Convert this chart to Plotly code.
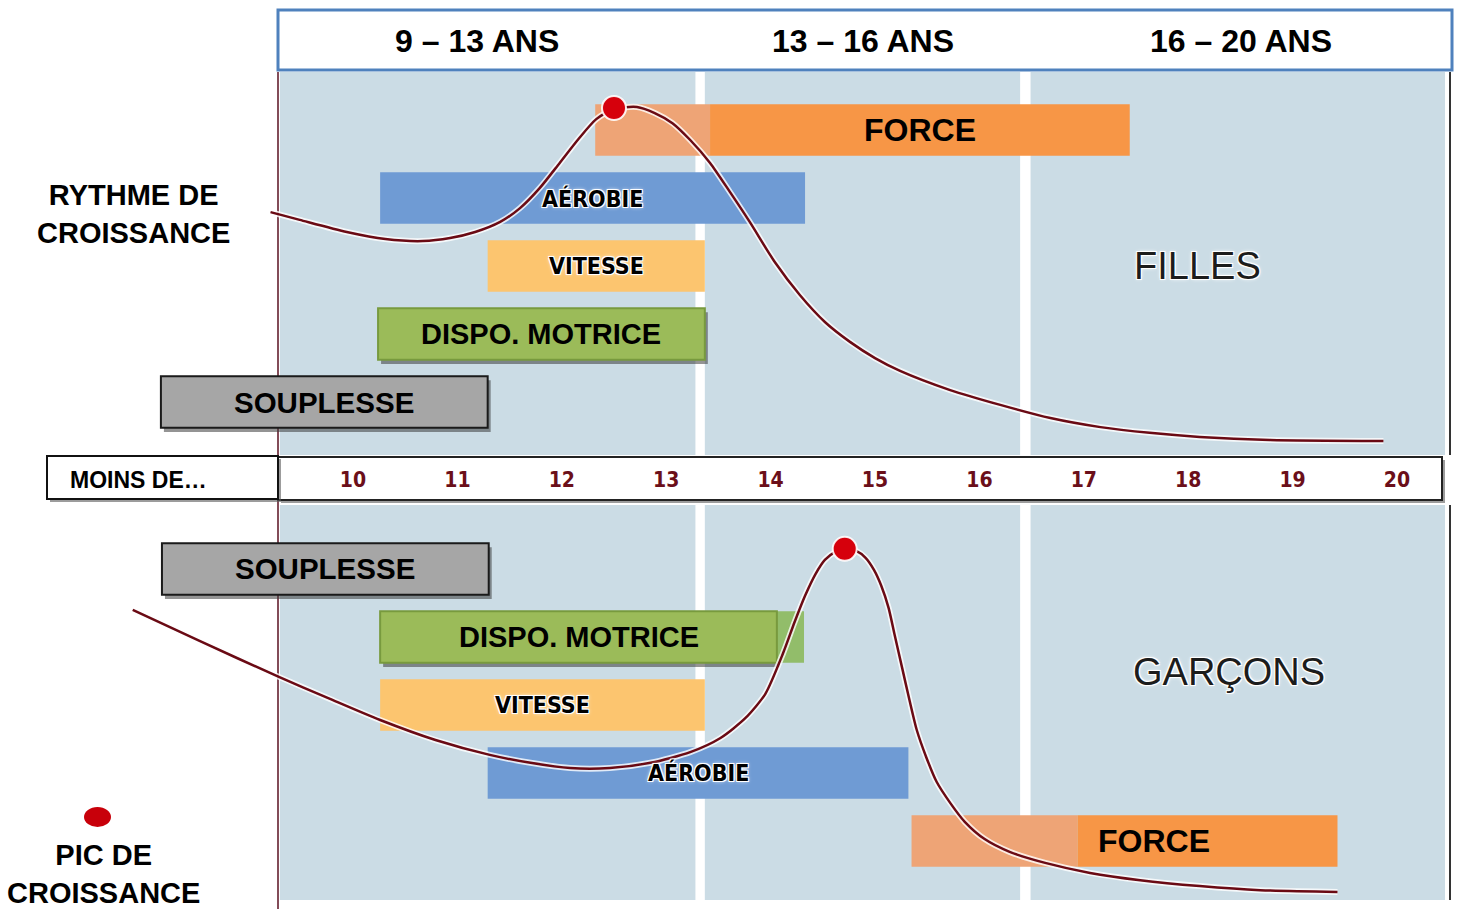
import plotly.graph_objects as go

W, H = 1459, 909

# ---------------- DATA ----------------
AGES = list(range(10, 21))                      # "moins de ..." age ticks
PERIODS = ["9 – 13 ANS", "13 – 16 ANS", "16 – 20 ANS"]

ROWS_F = ["SOUPLESSE", "DISPO. MOTRICE", "VITESSE", "AÉROBIE", "FORCE"]   # bottom -> top
ROWS_G = ["FORCE", "AÉROBIE", "VITESSE", "DISPO. MOTRICE", "SOUPLESSE"]   # bottom -> top

# Filles : phases sensibles (âge début / fin)
F_QUAL = ["FORCE", "AÉROBIE", "VITESSE", "DISPO. MOTRICE", "SOUPLESSE"]
F_START = [13.42, 10.26, 11.29, 10.24, 8.16]
F_END = [17.44, 14.33, 13.37, 13.37, 11.29]
F_EARLY_QUAL = ["FORCE"]
F_EARLY_START = [12.32]
F_EARLY_END = [13.42]

# Garçons
G_QUAL = ["SOUPLESSE", "DISPO. MOTRICE", "VITESSE", "AÉROBIE", "FORCE"]
G_START = [8.17, 10.26, 10.26, 11.29, 16.94]
G_END = [11.30, 14.06, 13.37, 15.32, 19.43]
G_EARLY_QUAL = ["DISPO. MOTRICE", "FORCE"]
G_EARLY_START = [10.26, 15.35]
G_EARLY_END = [14.32, 16.94]

# Rythme de croissance (unités arbitraires)
F_CURVE_AGE = [9.21, 9.49, 9.94, 10.31, 10.67, 10.93, 11.17, 11.41, 11.60, 11.79,
               11.98, 12.16, 12.33, 12.50, 12.72, 12.89, 13.06, 13.23, 13.42, 13.61,
               13.80, 14.04, 14.28, 14.52, 14.76, 15.00, 15.24, 15.72, 16.20, 16.68,
               17.16, 17.63, 18.11, 18.78, 19.87]
F_CURVE_RATE = [6.91, 6.68, 6.32, 6.11, 6.05, 6.14, 6.32, 6.62, 7.03, 7.63,
                8.37, 9.08, 9.67, 9.97, 10.03, 9.85, 9.55, 9.05, 8.37, 7.51,
                6.62, 5.43, 4.45, 3.65, 3.06, 2.58, 2.20, 1.63, 1.19, 0.80,
                0.53, 0.36, 0.24, 0.15, 0.12]
F_PEAK_AGE, F_PEAK_RATE = [12.50], [10.0]

G_CURVE_AGE = [7.89, 8.53, 9.29, 9.78, 10.26, 10.79, 11.31, 11.70, 12.08, 12.46,
               12.85, 13.23, 13.52, 13.76, 13.95, 14.12, 14.23, 14.33, 14.43, 14.52,
               14.62, 14.71, 14.82, 14.91, 14.99, 15.06, 15.13, 15.19, 15.26, 15.33,
               15.40, 15.49, 15.59, 15.72, 15.86, 16.05, 16.29, 16.63, 17.06, 17.54,
               18.11, 18.69, 19.43]
G_CURVE_RATE = [8.26, 7.36, 6.32, 5.68, 5.07, 4.49, 4.06, 3.83, 3.68, 3.68,
                3.83, 4.14, 4.55, 5.13, 5.83, 7.01, 7.91, 8.67, 9.30, 9.71,
                9.94, 10.03, 9.97, 9.77, 9.42, 8.96, 8.32, 7.51, 6.58, 5.65,
                4.78, 4.00, 3.28, 2.67, 2.12, 1.62, 1.25, 0.93, 0.64, 0.43,
                0.26, 0.14, 0.09]
G_PEAK_AGE, G_PEAK_RATE = [14.71], [10.03]

# ---------------- STYLE ----------------
FONT = "Liberation Sans, Arial, sans-serif"
COND = "DejaVu Sans Condensed, DejaVu Sans, sans-serif"
BG = "#CBDCE5"
MAIN_COL = {"FORCE": "#F79646", "AÉROBIE": "#6F9BD4", "VITESSE": "#FCC56F",
            "DISPO. MOTRICE": "#9BBB59", "SOUPLESSE": "#A6A6A6"}
EARLY_COL = {"FORCE": "#EEA476", "DISPO. MOTRICE": "#92BD6A"}
LINE_COL = {"DISPO. MOTRICE": "#789A3E", "SOUPLESSE": "#1A1A1A"}
LABEL_SIZE = {"FORCE": 32, "AÉROBIE": 23, "VITESSE": 23, "DISPO. MOTRICE": 29, "SOUPLESSE": 29.5}
HALO = "-1px -1px 0 #fff, 1px -1px 0 #fff, -1px 1px 0 #fff, 1px 1px 0 #fff, 0 0 4px #fff"
BAR_W = 0.76

# pixel helpers for decoration (layout is fixed, zero margins)
def px(p):
    return p / W

def py(p):
    return 1 - p / H

X0_PX, X_PER_YEAR = 353.0, 104.4
X_RANGE = [10 + (0 - X0_PX) / X_PER_YEAR, 10 + (W - X0_PX) / X_PER_YEAR]
COLS = [(9.30, 13.28), (13.37, 16.39), (16.49, 20.46)]

fig = go.Figure()


def add_bars(qual, start, end, yaxis, colors, lines=None):
    lines = lines or {}
    widths = [2 if q in lines else 0 for q in qual]
    lcols = [lines.get(q, "rgba(0,0,0,0)") for q in qual]
    fig.add_trace(go.Bar(
        y=qual, base=start, x=[e - s for s, e in zip(start, end)],
        orientation="h", width=BAR_W, yaxis=yaxis, xaxis="x",
        marker=dict(color=[colors[q] for q in qual], line=dict(color=lcols, width=widths)),
        showlegend=False, hoverinfo="skip"))


def add_shadows(qual, start, end, yref, rows):
    for q, s, e in zip(qual, start, end):
        if q not in LINE_COL:
            continue
        i = rows.index(q)
        dx = 3 / X_PER_YEAR
        fig.add_shape(type="rect", xref="x", yref=yref, x0=s + dx, x1=e + dx,
                      y0=i - BAR_W / 2 - 0.06, y1=i + BAR_W / 2 - 0.06,
                      fillcolor="rgba(60,60,60,0.55)", line_width=0, layer="below")


# backgrounds
for yd in ["y domain", "y2 domain"]:
    for a, b in COLS:
        fig.add_shape(type="rect", xref="x", yref=yd, x0=a, x1=b, y0=0, y1=1,
                      fillcolor=BG, line_width=0, layer="below")

# left dark red vertical rule (beneath bars)
fig.add_shape(type="line", xref="paper", yref="paper", x0=px(278), x1=px(278), y0=py(72), y1=py(909),
              line=dict(color="#5A1020", width=1.5), layer="below")

add_shadows(F_QUAL, F_START, F_END, "y", ROWS_F)
add_shadows(G_QUAL, G_START, G_END, "y2", ROWS_G)

add_bars(F_EARLY_QUAL, F_EARLY_START, F_EARLY_END, "y", EARLY_COL)
add_bars(F_QUAL, F_START, F_END, "y", MAIN_COL, LINE_COL)
add_bars(G_EARLY_QUAL, G_EARLY_START, G_EARLY_END, "y2", EARLY_COL)
add_bars(G_QUAL, G_START, G_END, "y2", MAIN_COL, LINE_COL)

# growth curves
for ages, rate, ya in [(F_CURVE_AGE, F_CURVE_RATE, "y3"), (G_CURVE_AGE, G_CURVE_RATE, "y4")]:
    fig.add_trace(go.Scatter(x=ages, y=rate, yaxis=ya, mode="lines",
                             line=dict(color="rgba(255,255,255,0.8)", width=6, shape="spline", smoothing=0.7),
                             showlegend=False, hoverinfo="skip"))
    fig.add_trace(go.Scatter(x=ages, y=rate, yaxis=ya, mode="lines",
                             line=dict(color="#6A0A14", width=2.5, shape="spline", smoothing=0.7),
                             showlegend=False, hoverinfo="skip"))
for a, r, ya in [(F_PEAK_AGE, F_PEAK_RATE, "y3"), (G_PEAK_AGE, G_PEAK_RATE, "y4")]:
    fig.add_trace(go.Scatter(x=a, y=r, yaxis=ya, mode="markers",
                             marker=dict(color="#D6000C", size=24, line=dict(color="rgba(255,255,255,0.9)", width=2)),
                             showlegend=False, hoverinfo="skip"))

annotations = []
LABEL_X_OVERRIDE_G = {"FORCE": 17.67}
for qual, start, end, yref, over in [(F_QUAL, F_START, F_END, "y", {}),
                                     (G_QUAL, G_START, G_END, "y2", LABEL_X_OVERRIDE_G)]:
    for q, s, e in zip(qual, start, end):
        xc = over.get(q, (s + e) / 2)
        halo = q in ("AÉROBIE", "VITESSE")
        annotations.append(dict(
            x=xc, y=q, xref="x", yref=yref, text=q, showarrow=False,
            xanchor="center", yanchor="middle",
            font=dict(family=COND if halo else FONT, size=LABEL_SIZE[q], color="#000000",
                      weight=700, shadow=HALO if halo else "none")))

HEAD_X = [477, 863, 1241]
for t, xx in zip(PERIODS, HEAD_X):
    annotations.append(dict(x=px(xx), y=py(41), xref="paper", yref="paper", text=t, showarrow=False,
                            xanchor="center", yanchor="middle",
                            font=dict(family=FONT, size=32, color="#000000", weight=700)))

annotations += [
    dict(x=px(133), y=py(214), xref="paper", yref="paper", showarrow=False,
         xanchor="center", yanchor="middle", text="RYTHME DE<br>CROISSANCE",
         font=dict(family=FONT, size=29, color="#000", weight=700)),
    dict(x=px(103), y=py(874), xref="paper", yref="paper", showarrow=False,
         xanchor="center", yanchor="middle", text="PIC DE<br>CROISSANCE",
         font=dict(family=FONT, size=29, color="#000", weight=700)),
    dict(x=px(68), y=py(480), xref="paper", yref="paper", showarrow=False,
         xanchor="left", yanchor="middle",
         text="MOINS DE…", font=dict(family=FONT, size=23, color="#000", weight=700)),
    dict(x=px(1197), y=py(266), xref="paper", yref="paper", showarrow=False, text="FILLES",
         xanchor="center", yanchor="middle",
         font=dict(family=FONT, size=38, color="#1C1C1C", shadow=HALO)),
    dict(x=px(1229), y=py(672), xref="paper", yref="paper", showarrow=False, text="GARÇONS",
         xanchor="center", yanchor="middle",
         font=dict(family=FONT, size=38, color="#1C1C1C", shadow=HALO)),
]

shapes = [
    dict(type="rect", xref="paper", yref="paper", x0=px(278), x1=px(1452), y0=py(70), y1=py(10),
         line=dict(color="#4F81BD", width=3), fillcolor="white", layer="below"),
    dict(type="line", xref="paper", yref="paper", x0=px(1450), x1=px(1450), y0=py(72), y1=py(455),
         line=dict(color="#333", width=2)),
    dict(type="line", xref="paper", yref="paper", x0=px(1450), x1=px(1450), y0=py(505), y1=py(900),
         line=dict(color="#333", width=2)),
    dict(type="rect", xref="paper", yref="paper", x0=px(281), x1=px(1445), y0=py(503), y1=py(460),
         line_width=0, fillcolor="rgba(90,90,90,0.6)", layer="below"),
    dict(type="rect", xref="paper", yref="paper", x0=px(278), x1=px(1442), y0=py(500), y1=py(457),
         line=dict(color="#222", width=2), fillcolor="white", layer="below"),
    dict(type="rect", xref="paper", yref="paper", x0=px(50), x1=px(281), y0=py(502), y1=py(459),
         line_width=0, fillcolor="rgba(90,90,90,0.6)", layer="below"),
    dict(type="rect", xref="paper", yref="paper", x0=px(47), x1=px(278), y0=py(499), y1=py(456),
         line=dict(color="#111", width=2), fillcolor="white", layer="below"),
    dict(type="circle", xref="paper", yref="paper", x0=px(84), x1=px(111), y0=py(827), y1=py(807),
         line_width=0, fillcolor="#C8000A"),
]
for s in shapes:
    fig.add_shape(**s)

fig.update_layout(
    width=W, height=H, margin=dict(l=0, r=0, t=0, b=0, autoexpand=False),
    paper_bgcolor="white", plot_bgcolor="rgba(0,0,0,0)",
    barmode="overlay", showlegend=False,
    annotations=annotations,
    xaxis=dict(range=X_RANGE, domain=[0, 1], showgrid=False, zeroline=False, showline=False,
               tickvals=AGES, ticktext=[str(a) for a in AGES], ticks="",
               tickfont=dict(family=COND, size=21, color="#6B0F1A", weight=700),
               anchor="free", position=py(465), fixedrange=True, automargin=False),
    yaxis=dict(domain=[py(455), py(72)], type="category", categoryarray=ROWS_F,
               range=[-0.779, 4.853], visible=False, fixedrange=True),
    yaxis2=dict(domain=[py(900), py(505)], type="category", categoryarray=ROWS_G,
                range=[-0.868, 4.941], visible=False, fixedrange=True),
    yaxis3=dict(overlaying="y", range=[-0.297, 11.068], visible=False, anchor="x", fixedrange=True),
    yaxis4=dict(overlaying="y2", range=[-0.145, 11.30], visible=False, anchor="x", fixedrange=True),
)

fig.write_html("out.html", config={"displayModeBar": False},
               post_script="document.body.style.margin='0';document.body.style.overflow='hidden';")
